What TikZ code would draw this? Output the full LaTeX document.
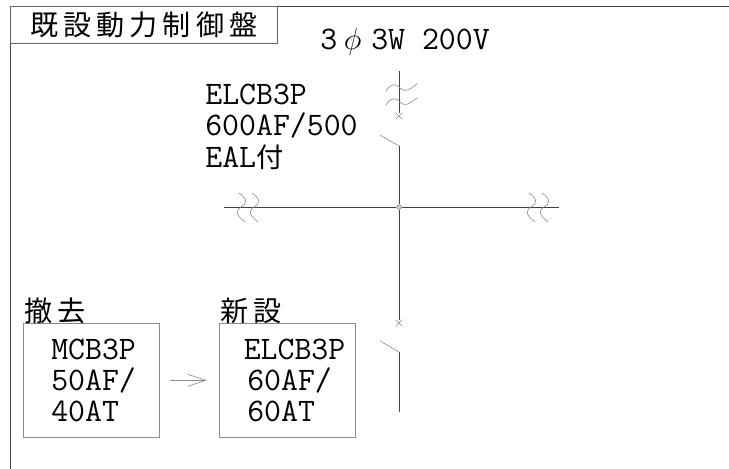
\documentclass[tikz,border=0pt]{standalone}
\usepackage{fontspec}
\newfontfamily\jpfont{Noto Sans CJK JP}
\newfontfamily\jptitle[LetterSpace=18]{Noto Sans CJK JP}
\usetikzlibrary{arrows.meta,shapes.misc}
\tikzset{
	wire/.style={draw=black!75,line width=0.5pt},
	thinwire/.style={draw=black!45,line width=0.35pt},
	label/.style={inner sep=0pt,anchor=base west,align=left,font=\fontsize{18.7}{17.6}\selectfont\ttfamily},
	jplabel/.style={inner sep=0pt,anchor=base west,font=\fontsize{16}{17}\selectfont\jptitle},
	breaker/.style={draw=black!45,line width=0.35pt,minimum width=2.72cm,minimum height=2.28cm,inner xsep=0.56cm,inner ysep=0pt,text width=1.6cm,align=left,font=\fontsize{18.7}{17.6}\selectfont\ttfamily},
	trip/.style={cross out,draw=black!45,line width=0.35pt,minimum size=0.12cm,inner sep=0pt}
}
\newcommand{\hwave}[2]{\draw[thinwire] (#1-13,#2+4) .. controls (#1-7,#2-5) and (#1-3,#2-3) .. (#1+1,#2+1) .. controls (#1+6,#2+6) and (#1+10,#2+3) .. (#1+18,#2-3);}
\newcommand{\vwave}[2]{\draw[thinwire] (#1-2,#2-14) .. controls (#1+7,#2-8) and (#1+6,#2-3) .. (#1,#2) .. controls (#1-6,#2+4) and (#1-5,#2+8) .. (#1+4,#2+15);}
\begin{document}
\begin{tikzpicture}[x=0.02cm,y=-0.02cm]
	\useasboundingbox (0,0) rectangle (729,469);
	% frame
	\coordinate (frametl) at (10,6);
	\coordinate (frametr) at (729,6);
	\coordinate (framebl) at (10,469);
	\draw[wire] (frametr) -- (frametl) -- (framebl);
	\node[draw=black!60,line width=0.4pt,anchor=north west,minimum width=5.34cm,minimum height=0.74cm,inner sep=0pt,font=\fontsize{16}{17}\selectfont\jptitle] (title) at (frametl) {既設動力制御盤};
	
	\node[label] (supply) at (320,50) {3\hspace{0.2em}$\phi$\hspace{0.3em}3W 200V};
	\node[label] (elcbmain) at (205,168) {ELCB3P\\600AF/500\\[1pt]EAL{\fontsize{15.5}{17}\selectfont\jpfont 付}};
	
	% main feeder
	\coordinate (feedtop) at (399,71);
	\node[trip] (tripa) at (399,116) {};
	\coordinate (bladea) at (380,135);
	\coordinate (hingea) at (399,146);
	\node[draw=black!50,fill=black!20,line width=0.35pt,circle,inner sep=0pt,minimum size=0.09cm] (junction) at (399,207) {};
	\node[trip] (tripb) at (399,323) {};
	\coordinate (bladeb) at (380,341);
	\coordinate (hingeb) at (399,352);
	\coordinate (feedend) at (399,412);
	\coordinate (busl) at (224,207);
	\coordinate (busr) at (559,207);
	\draw[wire] (feedtop) -- (tripa);
	\draw[thinwire] (bladea) -- (hingea);
	\draw[wire] (hingea) -- (junction) -- (tripb);
	\draw[thinwire] (bladeb) -- (hingeb);
	\draw[wire] (hingeb) -- (feedend);
	\draw[wire] (busl) -- (junction) -- (busr);
	
	% breaks
	\hwave{399}{87}
	\hwave{399}{101}
	\vwave{241}{207}
	\vwave{254}{207}
	\vwave{531}{207}
	\vwave{544}{207}
	
	% breakers
	\node[breaker,anchor=north west] (oldcb) at (23,323) {MCB3P\\50AF/\\40AT};
	\node[breaker,anchor=north west] (newcb) at (219,323) {\hspace*{-2pt}ELCB3P\\60AF/\\60AT};
	\node[jplabel] (oldlabel) at (24,321) {撤去};
	\node[jplabel] (newlabel) at (220,321) {新設};
	\draw[thinwire,-{Straight Barb[length=3.6mm,width=2.4mm]},shorten <=6pt,shorten >=7pt] (oldcb) -- (newcb);
\end{tikzpicture}
\end{document}
